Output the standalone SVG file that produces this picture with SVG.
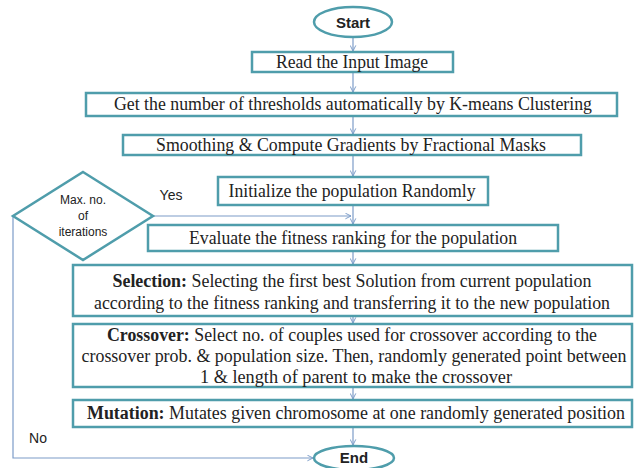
<svg xmlns="http://www.w3.org/2000/svg" width="636" height="468" viewBox="0 0 636 468">
<defs>
<marker id="arr" viewBox="0 0 10 10" refX="9" refY="5" markerWidth="7" markerHeight="7" orient="auto" markerUnits="userSpaceOnUse">
<path d="M1,1 L9,5 L1,9" fill="none" stroke="#7c9cc8" stroke-width="1.4"/>
</marker>
<style>
.box{fill:#fff;stroke:#4f9dab;stroke-width:2.5}
.t{font-family:"Liberation Serif","Times New Roman","DejaVu Serif",serif;font-size:18px;fill:#222;text-anchor:middle}
.s{font-family:"Liberation Sans",Arial,sans-serif;fill:#222;text-anchor:middle}
.c{fill:none;stroke:#7c9cc8;stroke-width:1.2;marker-end:url(#arr)}
</style>
</defs>
<rect width="636" height="468" fill="#fff"/>
<g id="connectors">
<line class="c" x1="353" y1="37" x2="353" y2="51"/>
<line class="c" x1="353" y1="72" x2="353" y2="92"/>
<line class="c" x1="353" y1="116" x2="353" y2="134"/>
<line class="c" x1="353" y1="155" x2="353" y2="176"/>
<line class="c" x1="353" y1="205" x2="353" y2="224"/>
<line class="c" x1="353" y1="251" x2="353" y2="264"/>
<line class="c" x1="353" y1="316" x2="353" y2="323"/>
<line class="c" x1="353" y1="387" x2="353" y2="399"/>
<line class="c" x1="353" y1="427" x2="353" y2="445"/>
<line class="c" x1="153" y1="216" x2="351" y2="216"/>
<polyline class="c" points="13,216 13,458 313,458"/>
</g>
<g id="start">
<ellipse class="box" cx="353" cy="22" rx="39" ry="15"/>
<text class="s" x="353" y="28" font-size="15" font-weight="bold">Start</text>
</g>
<g id="read">
<rect class="box" x="252" y="52" width="201" height="20"/>
<text class="t" x="352" y="68" textLength="152" lengthAdjust="spacingAndGlyphs">Read the Input  Image</text>
</g>
<g id="kmeans">
<rect class="box" x="86" y="93" width="531" height="23"/>
<text class="t" x="353" y="110" textLength="478" lengthAdjust="spacingAndGlyphs">Get the number of thresholds automatically by K-means Clustering</text>
</g>
<g id="smoothing">
<rect class="box" x="123" y="135" width="458" height="20"/>
<text class="t" x="351" y="151" textLength="390" lengthAdjust="spacingAndGlyphs">Smoothing &amp; Compute Gradients by Fractional Masks</text>
</g>
<g id="init">
<rect class="box" x="218" y="177" width="270" height="28"/>
<text class="t" x="352" y="197" textLength="247" lengthAdjust="spacingAndGlyphs">Initialize the population Randomly</text>
</g>
<g id="decision">
<polygon class="box" points="83,172 153,216 83,260 13,216"/>
<text class="s" x="83" y="204" font-size="12">Max. no.</text>
<text class="s" x="83" y="220" font-size="12">of</text>
<text class="s" x="83" y="236" font-size="12">iterations</text>
</g>
<g id="yes-label"><text class="s" x="171" y="200" font-size="14">Yes</text></g>
<g id="no-label"><text class="s" x="38" y="443" font-size="14">No</text></g>
<g id="evaluate">
<rect class="box" x="148" y="225" width="410" height="26"/>
<text class="t" x="353" y="244" textLength="328" lengthAdjust="spacingAndGlyphs">Evaluate  the fitness ranking  for the population</text>
</g>
<g id="selection">
<rect class="box" x="73" y="265" width="559" height="51"/>
<text class="t" x="352" y="287" textLength="479" lengthAdjust="spacingAndGlyphs"><tspan font-weight="bold">Selection:</tspan> Selecting the first best Solution from current population</text>
<text class="t" x="352" y="309" textLength="516" lengthAdjust="spacingAndGlyphs">according to the fitness ranking and  transferring it to the new population</text>
</g>
<g id="crossover">
<rect class="box" x="73" y="324" width="559" height="63"/>
<text class="t" x="352" y="341" textLength="490" lengthAdjust="spacingAndGlyphs"><tspan font-weight="bold">Crossover:</tspan> Select no. of couples used for crossover according to the</text>
<text class="t" x="354" y="362" textLength="545" lengthAdjust="spacingAndGlyphs">crossover prob. &amp; population size. Then, randomly generated point between</text>
<text class="t" x="356" y="383" textLength="312" lengthAdjust="spacingAndGlyphs">1 &amp; length of parent to make  the crossover</text>
</g>
<g id="mutation">
<rect class="box" x="73" y="400" width="559" height="27"/>
<text class="t" x="356" y="419" textLength="538" lengthAdjust="spacingAndGlyphs"><tspan font-weight="bold">Mutation:</tspan> Mutates given chromosome at one randomly generated position</text>
</g>
<g id="end">
<ellipse class="box" cx="354" cy="458" rx="40" ry="12"/>
<text class="s" x="354" y="463" font-size="15" font-weight="bold">End</text>
</g>
</svg>
